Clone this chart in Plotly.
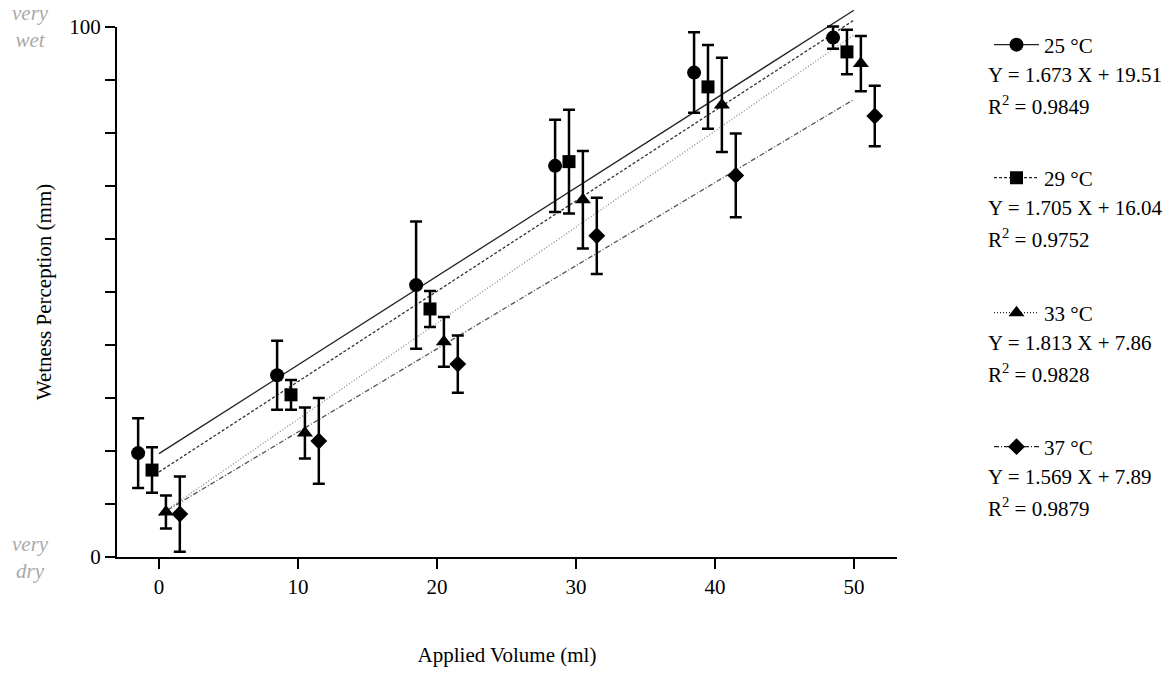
import plotly.graph_objects as go

# ---------------- data ----------------
volumes = [0, 10, 20, 30, 40, 50]
temps = ["25 °C", "29 °C", "33 °C", "37 °C"]
offsets = [-1.5, -0.5, 0.5, 1.5]

mean_25 = [19.6, 34.3, 51.3, 73.8, 91.4, 98.0]
sd_25 = [6.6, 6.5, 12.0, 8.7, 7.6, 2.1]
mean_29 = [16.4, 30.6, 46.8, 74.6, 88.7, 95.3]
sd_29 = [4.3, 2.8, 3.4, 9.8, 7.9, 4.2]
mean_33 = [8.5, 23.4, 40.6, 67.4, 85.3, 93.1]
sd_33 = [3.1, 4.8, 4.7, 9.2, 8.9, 5.2]
mean_37 = [8.1, 21.9, 36.4, 60.6, 72.0, 83.2]
sd_37 = [7.1, 8.1, 5.4, 7.2, 7.9, 5.7]

slopes = ["1.673", "1.705", "1.813", "1.569"]
intercepts = ["19.51", "16.04", "7.86", "7.89"]
r2 = ["0.9849", "0.9752", "0.9828", "0.9879"]
fit_x = [0, 50]

means = [mean_25, mean_29, mean_33, mean_37]
sds = [sd_25, sd_29, sd_33, sd_37]

# ---------------- style ----------------
FONT = "Liberation Serif"
FS = 21
symbols = ["circle", "square", "triangle-up", "diamond"]
msizes = [14, 13, 14, 13]
dashes = ["solid", "3px,2px", "1px,2px", "5px,2px,1px,2px"]
lcolors = ["#222222", "#333333", "#888888", "#555555"]

W, H = 1174, 673
L, R, T, B = 117, 277, 5, 116
AX_TOP = 27                      # pixel row of y = 100
PW, PH = W - L - R, H - T - B
YFRAC = (H - B - AX_TOP) / PH    # fraction of paper height used by the main axes
XR = [-3.02, 53.1]


def px(xp):
    return (xp - L) / PW


def py(yp):
    return (H - B - yp) / PH


fig = go.Figure()

# invisible trace so the visible axes (x, y) are drawn
fig.add_trace(go.Scatter(x=[None], y=[None], mode="markers", showlegend=False,
                         hoverinfo="skip", xaxis="x", yaxis="y"))

# fit lines (drawn on a hidden overlay subplot so they may run past y = 100)
for i in range(4):
    a, b = float(slopes[i]), float(intercepts[i])
    fy = [a * x + b for x in fit_x]
    fig.add_trace(go.Scatter(
        x=fit_x, y=fy, mode="lines", showlegend=False, hoverinfo="skip",
        xaxis="x2", yaxis="y2",
        line=dict(color=lcolors[i], width=1.3, dash=dashes[i]),
    ))

# data points with error bars
for i in range(4):
    xs = [v + offsets[i] for v in volumes]
    fig.add_trace(go.Scatter(
        x=xs, y=means[i], mode="markers", showlegend=False,
        xaxis="x2", yaxis="y2",
        marker=dict(symbol=symbols[i], size=msizes[i], color="black"),
        error_y=dict(type="data", array=sds[i], visible=True,
                     color="black", thickness=2.5, width=6),
        cliponaxis=False,
    ))

# legend entries (one legend each)
legend_centers = [45, 178, 313, 447]
for i in range(4):
    lname = "legend" if i == 0 else f"legend{i + 1}"
    fig.add_trace(go.Scatter(
        x=[None], y=[None], mode="lines+markers", name=temps[i],
        legend=lname, xaxis="x2", yaxis="y2",
        line=dict(color="#222222", width=1.3, dash=dashes[i]),
        marker=dict(symbol=symbols[i], size=msizes[i], color="black"),
    ))

legends = {}
for i in range(4):
    lname = "legend" if i == 0 else f"legend{i + 1}"
    legends[lname] = dict(
        x=px(989), y=py(legend_centers[i]), xanchor="left", yanchor="middle",
        font=dict(family=FONT, size=FS, color="black"),
        bgcolor="rgba(0,0,0,0)", borderwidth=0, itemwidth=45,
    )

annotations = []
for i in range(4):
    annotations.append(dict(
        x=px(986), y=py(legend_centers[i] + 30), xref="paper", yref="paper",
        xanchor="left", yanchor="middle", showarrow=False,
        text=f"Y = {slopes[i]} X + {intercepts[i]}",
        font=dict(family=FONT, size=FS, color="black"),
    ))
    annotations.append(dict(
        x=px(986), y=py(legend_centers[i] + 60), xref="paper", yref="paper",
        xanchor="left", yanchor="middle", showarrow=False,
        text=f"R<sup>2</sup> = {r2[i]}",
        font=dict(family=FONT, size=FS, color="black"),
    ))

annotations.append(dict(
    x=px(30), y=py(27), xref="paper", yref="paper", showarrow=False,
    xanchor="center", yanchor="middle", text="<i>very<br>wet</i>",
    font=dict(family=FONT, size=FS, color="#aaaaaa"),
))
annotations.append(dict(
    x=px(30), y=py(557), xref="paper", yref="paper", showarrow=False,
    xanchor="center", yanchor="middle", text="<i>very<br>dry</i>",
    font=dict(family=FONT, size=FS, color="#aaaaaa"),
))

yticks = list(range(0, 101, 10))
fig.update_layout(
    width=W, height=H,
    margin=dict(l=L, r=R, t=T, b=B, pad=0, autoexpand=False),
    plot_bgcolor="rgba(0,0,0,0)", paper_bgcolor="white",
    font=dict(family=FONT, size=FS, color="black"),
    annotations=annotations,
    xaxis=dict(
        range=XR, showgrid=False, zeroline=False,
        showline=True, linecolor="black", linewidth=2,
        ticks="outside", ticklen=10, tickwidth=2, tickcolor="black",
        tickvals=volumes, ticktext=[str(v) for v in volumes],
        tickfont=dict(family=FONT, size=FS),
        title=dict(text="Applied Volume (ml)", font=dict(family=FONT, size=FS), standoff=49),
        anchor="y",
    ),
    yaxis=dict(
        range=[0, 100], domain=[0, YFRAC], showgrid=False, zeroline=False,
        showline=True, linecolor="black", linewidth=2,
        ticks="outside", ticklen=10, tickwidth=2, tickcolor="black",
        tickvals=yticks, ticktext=[str(v) if v in (0, 100) else "" for v in yticks],
        tickfont=dict(family=FONT, size=FS),
        title=dict(text="Wetness Perception (mm)", font=dict(family=FONT, size=FS), standoff=12),
        anchor="x",
    ),
    xaxis2=dict(range=XR, visible=False, anchor="y2"),
    yaxis2=dict(range=[0, 100 / YFRAC], domain=[0, 1], visible=False, anchor="x2"),
    **legends,
)

fig.write_html("out.html")
